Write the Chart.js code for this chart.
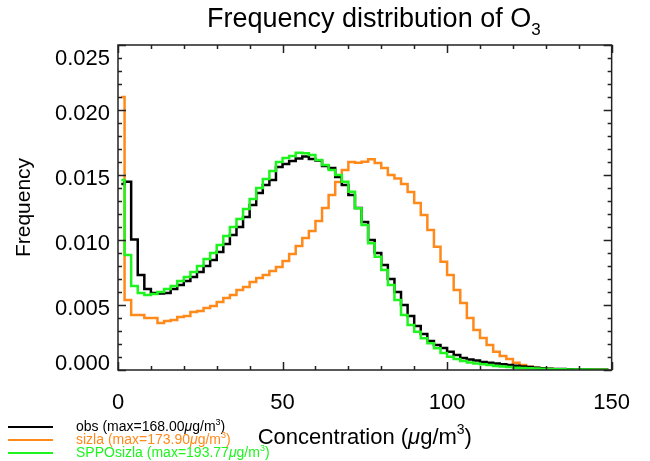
<!DOCTYPE html>
<html lang="en">
<head>
<meta charset="UTF-8">
<title>Frequency distribution of O3</title>
<script src="https://cdn.jsdelivr.net/npm/chart.js@4.4.1/dist/chart.umd.min.js"></script>
<style>
  body { margin: 0; background: #fff; }
</style>
</head>
<body>
<canvas id="histChart" width="650" height="461"></canvas>
<script>
// bin centres (2 ug/m3 bins)
const binCenters = [
  1, 3, 5, 7, 9, 11, 13, 15, 17, 19, 21, 23, 25, 27, 29, 31, 33, 35, 37, 39,
  41, 43, 45, 47, 49, 51, 53, 55, 57, 59, 61, 63, 65, 67, 69, 71, 73, 75, 77, 79,
  81, 83, 85, 87, 89, 91, 93, 95, 97, 99, 101, 103, 105, 107, 109, 111, 113, 115, 117, 119,
  121, 123, 125, 127, 129, 131, 133, 135, 137, 139, 141, 143, 145, 147, 149
];

const obs = [
  0.01431, 0.01448, 0.01004, 0.00731, 0.00623, 0.00592, 0.00588, 0.00592, 0.00623, 0.00654,
  0.00685, 0.00715, 0.00754, 0.00800, 0.00846, 0.00908, 0.00969, 0.01038, 0.01100, 0.01177,
  0.01269, 0.01362, 0.01423, 0.01462, 0.01562, 0.01585, 0.01608, 0.01627, 0.01642, 0.01623,
  0.01612, 0.01569, 0.01554, 0.01485, 0.01423, 0.01346, 0.01246, 0.01138, 0.01000, 0.00900,
  0.00808, 0.00700, 0.00600, 0.00500, 0.00415, 0.00338, 0.00277, 0.00223, 0.00192, 0.00169,
  0.00141, 0.00115, 0.00092, 0.00081, 0.00073, 0.00062, 0.00056, 0.00050, 0.00044, 0.00038,
  0.00033, 0.00027, 0.00023, 0.00018, 0.00013, 0.00010, 0.00008, 0.00007, 0.00005, 0.00004,
  0.00004, 0.00003, 0.00002, 0.00002, 0.00002
];

const sizla = [
  0.02100, 0.00538, 0.00423, 0.00423, 0.00400, 0.00400, 0.00362, 0.00377, 0.00385, 0.00408,
  0.00415, 0.00446, 0.00454, 0.00477, 0.00492, 0.00523, 0.00554, 0.00577, 0.00615, 0.00638,
  0.00677, 0.00708, 0.00731, 0.00762, 0.00792, 0.00838, 0.00892, 0.00954, 0.01015, 0.01069,
  0.01146, 0.01246, 0.01346, 0.01446, 0.01538, 0.01600, 0.01595, 0.01602, 0.01621, 0.01592,
  0.01554, 0.01500, 0.01473, 0.01431, 0.01369, 0.01285, 0.01192, 0.01077, 0.00948, 0.00833,
  0.00731, 0.00615, 0.00515, 0.00400, 0.00308, 0.00246, 0.00192, 0.00141, 0.00108, 0.00085,
  0.00056, 0.00038, 0.00025, 0.00018, 0.00013, 0.00009, 0.00006, 0.00005, 0.00004, 0.00003,
  0.00002, 0.00002, 0.00001, 0.00001, 0.00001
];

const spposizla = [
  0.01462, 0.00885, 0.00646, 0.00592, 0.00577, 0.00585, 0.00600, 0.00623, 0.00646, 0.00685,
  0.00715, 0.00754, 0.00800, 0.00854, 0.00900, 0.00962, 0.01031, 0.01100, 0.01162, 0.01238,
  0.01315, 0.01400, 0.01469, 0.01531, 0.01600, 0.01631, 0.01646, 0.01672, 0.01667, 0.01654,
  0.01615, 0.01577, 0.01538, 0.01500, 0.01448, 0.01372, 0.01244, 0.01115, 0.00975, 0.00872,
  0.00769, 0.00654, 0.00538, 0.00423, 0.00346, 0.00295, 0.00244, 0.00205, 0.00167, 0.00131,
  0.00102, 0.00085, 0.00069, 0.00058, 0.00050, 0.00044, 0.00038, 0.00031, 0.00027, 0.00023,
  0.00018, 0.00015, 0.00013, 0.00011, 0.00009, 0.00008, 0.00006, 0.00005, 0.00004, 0.00004,
  0.00003, 0.00003, 0.00002, 0.00002, 0.00002
];

const seriesNames = ['obs', 'sizla', 'SPPOsizla'];
const seriesMax = [168.00, 173.90, 193.77];
const seriesColors = ['#000000', '#ff8a1c', '#1ef51e'];

const xTicks = [0, 50, 100, 150];
const yTicks = [0.000, 0.005, 0.010, 0.015, 0.020, 0.025];

const FONT = '"Liberation Sans", Arial, Helvetica, sans-serif';

// text with sub/superscript parts: [text, mode, italic] mode 0 normal, 1 super, -1 sub
function drawRich(ctx, parts, x, y, size, align, color) {
    const fontFor = (m, it) => (it ? 'italic ' : '') + (m ? Math.round(size * 0.62) : size) + 'px ' + FONT;
    let total = 0;
    parts.forEach(([t, m, it]) => { ctx.font = fontFor(m, it); total += ctx.measureText(t).width; });
    let cx = align === 'center' ? x - total / 2 : x;
    ctx.fillStyle = color;
    ctx.textAlign = 'left';
    ctx.textBaseline = 'alphabetic';
    parts.forEach(([t, m, it]) => {
        ctx.font = fontFor(m, it);
        const dy = m === 1 ? -size * 0.45 : (m === -1 ? size * 0.28 : 0);
        ctx.fillText(t, cx, y + dy);
        cx += ctx.measureText(t).width;
    });
}

// frame with inward ticks, titles and the legend in the lower left
const decorPlugin = {
    id: 'decor',
    afterDatasetsDraw(chart) {
        const { ctx, chartArea: a, scales: { x, y } } = chart;
        ctx.save();
        ctx.strokeStyle = '#222';
        ctx.lineWidth = 1.5;
        ctx.strokeRect(a.left, a.top, a.right - a.left, a.bottom - a.top);

        ctx.beginPath();
        for (let k = 0; k <= 15; k++) {
            const v = x.min + k * 10;
            const px = Math.round(x.getPixelForValue(v)) + 0.5;
            const len = v % 50 === 0 ? 8 : 4;
            ctx.moveTo(px, a.bottom); ctx.lineTo(px, a.bottom - len);
            ctx.moveTo(px, a.top); ctx.lineTo(px, a.top + len);
        }
        for (let k = 0; k <= 25; k++) {
            const py = Math.round(y.getPixelForValue(k * 0.001)) + 0.5;
            const len = k % 5 === 0 ? 8 : 4;
            ctx.moveTo(a.left, py); ctx.lineTo(a.left + len, py);
            ctx.moveTo(a.right, py); ctx.lineTo(a.right - len, py);
        }
        ctx.stroke();

        // chart title and x axis title
        const midX = (a.left + a.right) / 2;
        drawRich(ctx, [['Frequency distribution of O', 0], ['3', -1]], midX + 9, 27, 27, 'center', '#000');
        drawRich(ctx, [['Concentration (', 0], ['\u03bc', 0, true], ['g/m', 0], ['3', 1], [')', 0]],
            midX, 444, 22, 'center', '#000');

        // legend
        seriesNames.forEach((name, i) => {
            const ly = 427 + i * 13;
            ctx.strokeStyle = seriesColors[i];
            ctx.lineWidth = 2;
            ctx.beginPath();
            ctx.moveTo(8, ly); ctx.lineTo(53, ly);
            ctx.stroke();
            drawRich(ctx, [[name + ' (max=' + seriesMax[i].toFixed(2), 0], ['\u03bc', 0, true], ['g/m', 0], ['3', 1], [')', 0]],
                76, ly + 4, 14, 'left', seriesColors[i]);
        });
        ctx.restore();
    }
};

const seriesData = [obs, sizla, spposizla];
const ctx = document.getElementById('histChart').getContext('2d');
const histChart = new Chart(ctx, {
    type: 'line',
    data: {
        datasets: seriesNames.map((name, i) => ({
            label: name,
            data: binCenters.map((c, j) => ({ x: c, y: seriesData[i][j] })),
            borderColor: seriesColors[i],
            borderWidth: 2.5,
            stepped: 'middle',
            pointRadius: 0,
            fill: false,
            order: [2, 3, 1][i]
        }))
    },
    options: {
        responsive: false,
        animation: false,
        layout: { padding: { top: 45, right: 20, left: 0, bottom: 0 } },
        plugins: {
            legend: { display: false },
            tooltip: { enabled: false }
        },
        scales: {
            x: {
                type: 'linear',
                min: 0,
                max: 150,
                afterBuildTicks: s => { s.ticks = xTicks.map(v => ({ value: v })); },
                afterFit: s => { s.height = 91; },
                grid: { display: false, drawTicks: false },
                border: { display: false },
                ticks: {
                    padding: 20,
                    autoSkip: false,
                    maxRotation: 0,
                    color: '#000',
                    font: { size: 22, family: FONT },
                    callback: v => String(v)
                }
            },
            y: {
                min: 0,
                max: 0.025,
                afterBuildTicks: s => { s.ticks = yTicks.map(v => ({ value: v })); },
                afterFit: s => { s.width = 118; },
                grid: { display: false, drawTicks: false },
                border: { display: false },
                ticks: {
                    padding: 8,
                    labelOffset: 4,
                    autoSkip: false,
                    color: '#000',
                    font: { size: 22, family: FONT, lineHeight: 0.9 },
                    callback: (v, i, arr) => {
                        const s = v.toFixed(3);
                        if (i === arr.length - 1) return ['', s];
                        if (i === 0) return [s, ''];
                        return s;
                    }
                },
                title: {
                    display: true,
                    text: 'Frequency',
                    color: '#000',
                    font: { size: 21, family: FONT },
                    padding: { top: 12, bottom: 10 }
                }
            }
        }
    },
    plugins: [decorPlugin]
});
</script>
</body>
</html>
